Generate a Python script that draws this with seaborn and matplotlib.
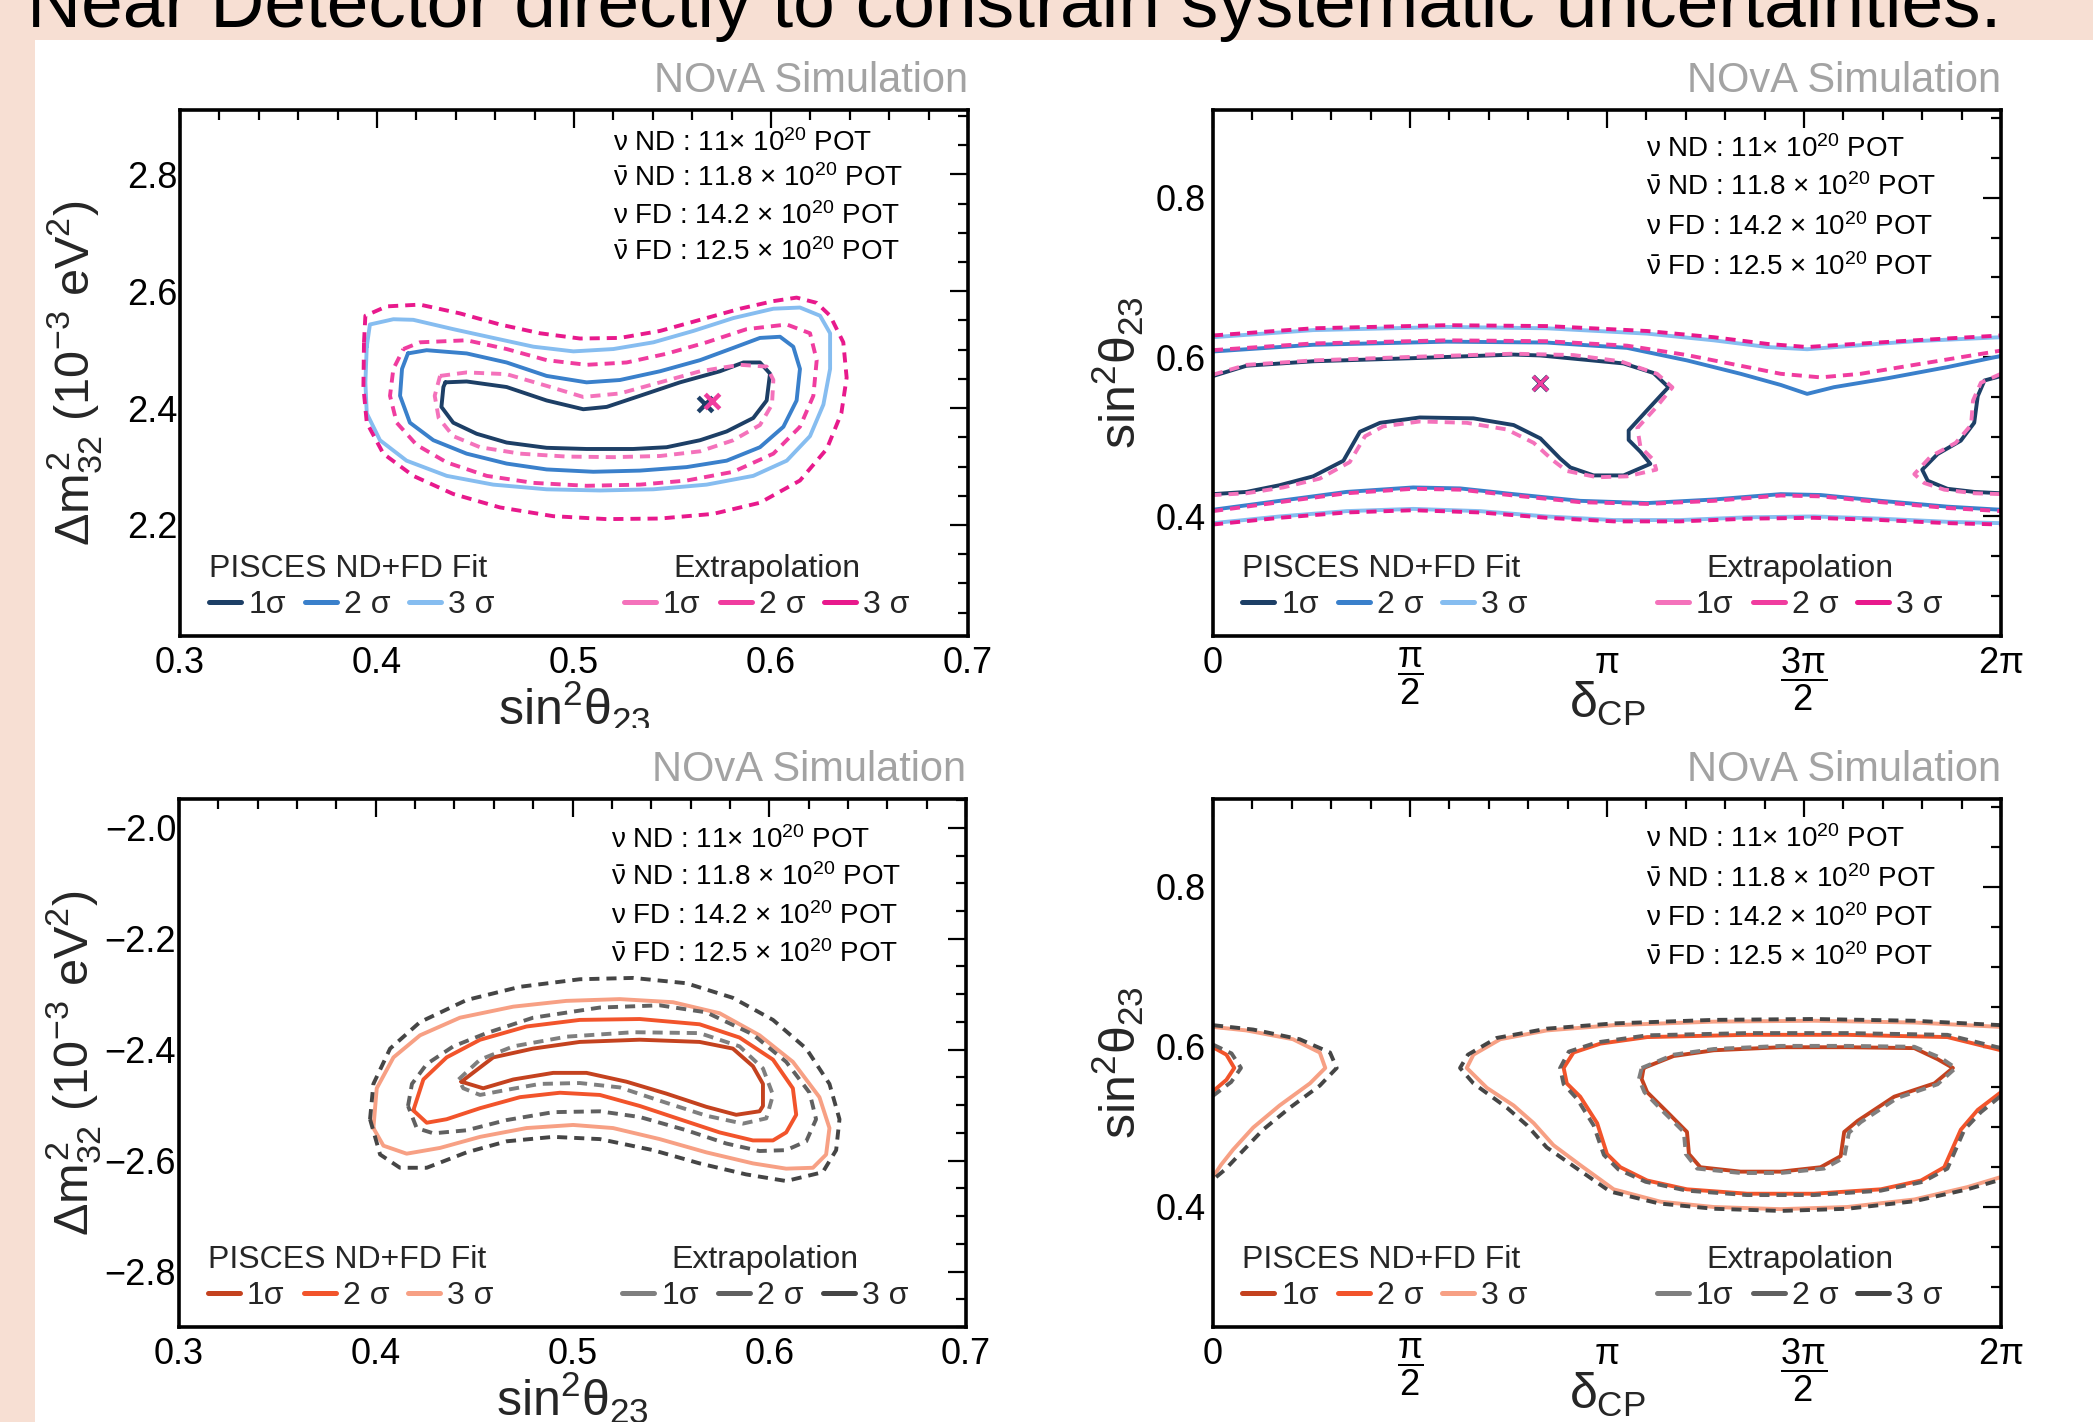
import numpy as np
import matplotlib
matplotlib.use("Agg")
import matplotlib.pyplot as plt
import seaborn as sns
from matplotlib.lines import Line2D
from matplotlib.patches import Rectangle
from matplotlib.ticker import MultipleLocator, FixedLocator, FixedFormatter

# ------------------------------------------------------------------ data
# Top-left: sin^2(theta23) vs dm^2_32 (normal ordering)
tl_fit1_x = [0.4347,0.4455,0.4658,0.4861,0.5047,0.5166,0.5335,0.5538,0.5741,0.586,0.5944,0.5995,0.5978,0.591,0.5775,0.564,0.547,0.530,0.5064,0.4861,0.4658,0.4506,0.4387,0.4327,0.4337]
tl_fit1_y = [2.444,2.4455,2.436,2.413,2.398,2.402,2.421,2.444,2.463,2.478,2.478,2.459,2.413,2.383,2.360,2.345,2.333,2.330,2.330,2.332,2.341,2.356,2.375,2.402,2.436]
tl_ext1_x = [0.432,0.4455,0.4658,0.4861,0.5047,0.5233,0.5437,0.564,0.5843,0.5978,0.6012,0.6005,0.5944,0.5809,0.564,0.5437,0.520,0.4963,0.4726,0.4523,0.4387,0.4313,0.4293]
tl_ext1_y = [2.455,2.461,2.458,2.438,2.419,2.425,2.444,2.463,2.474,2.471,2.448,2.406,2.371,2.345,2.326,2.318,2.316,2.317,2.322,2.333,2.352,2.383,2.421]
tl_fit2_x = [0.4157,0.4252,0.4455,0.4658,0.4861,0.5064,0.5233,0.5437,0.564,0.5809,0.5944,0.6046,0.6113,0.6147,0.613,0.6063,0.5944,0.5775,0.5572,0.5335,0.5098,0.4861,0.4658,0.4455,0.4286,0.4167,0.4117,0.4127]
tl_fit2_y = [2.4935,2.499,2.4935,2.478,2.455,2.444,2.448,2.463,2.482,2.503,2.520,2.522,2.505,2.467,2.413,2.368,2.333,2.310,2.299,2.293,2.291,2.295,2.305,2.322,2.345,2.375,2.421,2.467]
tl_ext2_x = [0.4134,0.4218,0.4455,0.4658,0.4861,0.5064,0.5267,0.547,0.5673,0.5876,0.608,0.6198,0.6232,0.6215,0.6147,0.6012,0.5809,0.5572,0.5335,0.5064,0.4794,0.4557,0.4354,0.4201,0.41,0.4066,0.4083]
tl_ext2_y = [2.501,2.5125,2.516,2.501,2.482,2.474,2.478,2.493,2.5125,2.535,2.543,2.528,2.482,2.421,2.368,2.322,2.291,2.276,2.269,2.267,2.272,2.284,2.307,2.337,2.375,2.421,2.467]
tl_fit3_x = [0.3948,0.3964,0.4083,0.4184,0.4387,0.459,0.4794,0.4997,0.520,0.5403,0.5606,0.5809,0.6012,0.6147,0.6249,0.630,0.630,0.6266,0.6198,0.608,0.591,0.5673,0.5403,0.5132,0.4861,0.459,0.4354,0.415,0.4015,0.3948,0.3941]
tl_fit3_y = [2.505,2.543,2.552,2.551,2.535,2.520,2.505,2.497,2.501,2.5125,2.532,2.554,2.570,2.572,2.558,2.528,2.467,2.406,2.352,2.310,2.284,2.269,2.261,2.259,2.261,2.269,2.284,2.310,2.345,2.391,2.444]
tl_ext3_x = [0.3934,0.3941,0.4049,0.4218,0.4421,0.4624,0.4827,0.503,0.5233,0.5437,0.564,0.5843,0.6012,0.613,0.6232,0.630,0.6367,0.6384,0.6357,0.6283,0.6147,0.5944,0.5707,0.5437,0.5166,0.4895,0.4624,0.4387,0.4184,0.4032,0.3948,0.3931]
tl_ext3_y = [2.5125,2.558,2.574,2.577,2.562,2.543,2.528,2.519,2.520,2.532,2.551,2.570,2.583,2.589,2.580,2.558,2.5125,2.452,2.391,2.330,2.276,2.238,2.219,2.211,2.210,2.215,2.230,2.253,2.284,2.322,2.375,2.436]
tl_best_fit = ([0.5667], [2.407])
tl_best_ext = ([0.570], [2.412])

# Top-right: delta_CP (units of pi) vs sin^2(theta23)
tr_fit3_hi_x = [0,0.254,0.593,0.847,1.102,1.271,1.407,1.508,1.610,1.780,2.0]
tr_fit3_hi_y = [0.6249,0.6338,0.6378,0.6361,0.6294,0.6210,0.6126,0.6098,0.6137,0.6199,0.6249]
tr_ext3_hi_x = [0,0.254,0.593,0.847,1.102,1.271,1.407,1.508,1.610,1.780,2.0]
tr_ext3_hi_y = [0.6271,0.6361,0.640,0.6389,0.6327,0.6249,0.6165,0.6126,0.6159,0.621,0.6271]
tr_fit2_hi_x = [0,0.254,0.593,0.847,1.051,1.203,1.339,1.441,1.508,1.576,1.712,1.864,2.0]
tr_fit2_hi_y = [0.607,0.6154,0.6193,0.6182,0.6115,0.5958,0.579,0.565,0.5538,0.5622,0.5734,0.5874,0.6014]
tr_ext2_hi_x = [0,0.254,0.593,0.847,1.051,1.203,1.339,1.441,1.542,1.644,1.780,2.0]
tr_ext2_hi_y = [0.6087,0.6171,0.621,0.6199,0.6143,0.6025,0.5891,0.579,0.5745,0.579,0.5902,0.6081]
tr_fit1_a_x = [0,0.085,0.254,0.508,0.763,0.831,1.042,1.118,1.156,1.105,1.055,1.055,1.085,1.110,1.042,0.966,0.907,0.881,0.831,0.763,0.661,0.525,0.424,0.373,0.331,0.254,0.169,0.085,0]
tr_fit1_a_y = [0.5762,0.5891,0.5947,0.5986,0.6031,0.602,0.592,0.580,0.5622,0.535,0.508,0.496,0.4811,0.466,0.4515,0.4515,0.4615,0.4727,0.4979,0.5147,0.5231,0.5242,0.5175,0.5063,0.4699,0.4503,0.4392,0.4308,0.428]
tr_ext1_a_x = [0,0.085,0.254,0.508,0.763,0.915,1.034,1.127,1.166,1.125,1.077,1.085,1.118,1.125,1.051,0.975,0.898,0.864,0.814,0.746,0.644,0.525,0.432,0.386,0.347,0.271,0.178,0.085,0]
tr_ext1_a_y = [0.5779,0.5902,0.5958,0.6003,0.6042,0.6025,0.5947,0.579,0.562,0.537,0.511,0.487,0.471,0.4587,0.4503,0.4492,0.4571,0.4699,0.4923,0.5091,0.5175,0.5192,0.513,0.5007,0.4682,0.4475,0.4364,0.4291,0.4268]
tr_fit1_b_x = [2.0,1.958,1.941,1.932,1.898,1.839,1.800,1.814,1.864,1.932,2.0]
tr_fit1_b_y = [0.5762,0.5706,0.551,0.5175,0.4951,0.4783,0.4587,0.4448,0.4347,0.4308,0.4291]
tr_ext1_b_x = [2.0,1.949,1.929,1.924,1.885,1.822,1.780,1.805,1.856,1.932,2.0]
tr_ext1_b_y = [0.579,0.5678,0.5455,0.5147,0.4923,0.4755,0.4531,0.442,0.4336,0.4291,0.428]
tr_lo2_x = [0,0.169,0.339,0.508,0.627,0.763,0.932,1.102,1.271,1.441,1.542,1.695,1.864,2.0]
tr_fit2_lo_y = [0.4084,0.4196,0.4308,0.4364,0.4352,0.428,0.4196,0.4168,0.4213,0.428,0.4269,0.4196,0.4123,0.4084]
tr_ext2_lo_y = [0.4067,0.4179,0.4291,0.4347,0.4336,0.4263,0.4179,0.4157,0.4196,0.4263,0.4252,0.4179,0.4106,0.4067]
tr_lo3_x = [0,0.169,0.339,0.508,0.678,0.847,1.017,1.186,1.356,1.525,1.695,1.864,2.0]
tr_fit3_lo_y = [0.3916,0.4,0.4067,0.4095,0.4067,0.4,0.3955,0.3955,0.3989,0.4,0.3972,0.3933,0.3916]
tr_ext3_lo_y = [0.3899,0.3983,0.405,0.4078,0.405,0.3983,0.3938,0.3938,0.3972,0.3983,0.3955,0.3916,0.3899]
tr_best = ([0.83], [0.568])

# Bottom-left: sin^2(theta23) vs dm^2_32 (inverted ordering)
bl_fit1_x = [0.4435,0.4597,0.48,0.5037,0.5342,0.5646,0.5815,0.5917,0.5968,0.5968,0.5951,0.5832,0.568,0.5477,0.5274,0.5071,0.4902,0.4699,0.4546]
bl_fit1_y = [-2.4577,-2.4139,-2.398,-2.386,-2.382,-2.386,-2.398,-2.4298,-2.4617,-2.5015,-2.511,-2.5174,-2.503,-2.4792,-2.4577,-2.4418,-2.4418,-2.4537,-2.4696]
bl_ext1_x = [0.4421,0.453,0.4699,0.497,0.5308,0.5646,0.5849,0.5968,0.6019,0.5985,0.5866,0.568,0.5443,0.524,0.5037,0.4834,0.4648,0.453,0.4445]
bl_ext1_y = [-2.4537,-2.4179,-2.394,-2.3765,-2.3685,-2.3701,-2.394,-2.4338,-2.4816,-2.5238,-2.5333,-2.519,-2.4919,-2.468,-2.4601,-2.4617,-2.4736,-2.4816,-2.4696]
bl_fit2_x = [0.4191,0.4242,0.436,0.453,0.4766,0.5037,0.5342,0.5646,0.5849,0.6019,0.612,0.6137,0.6086,0.6019,0.5917,0.5748,0.5545,0.5342,0.5139,0.4936,0.4733,0.453,0.436,0.4259]
bl_fit2_y = [-2.5094,-2.4537,-2.4139,-2.3821,-2.3582,-2.3463,-2.3447,-2.3542,-2.3781,-2.4179,-2.4696,-2.5174,-2.5492,-2.5636,-2.5636,-2.5492,-2.5254,-2.5015,-2.4816,-2.4776,-2.4856,-2.5055,-2.5254,-2.5317]
bl_ext2_x = [0.4164,0.4184,0.4259,0.4394,0.4563,0.48,0.5139,0.5443,0.568,0.5917,0.6086,0.6205,0.6238,0.6188,0.6086,0.5951,0.5782,0.5579,0.5342,0.5139,0.4902,0.4665,0.4462,0.4293,0.4208]
bl_ext2_y = [-2.5015,-2.4617,-2.4259,-2.394,-2.3701,-2.3423,-2.324,-2.32,-2.3327,-2.3725,-2.4219,-2.4776,-2.5254,-2.5652,-2.5811,-2.5827,-2.5692,-2.5453,-2.5214,-2.5111,-2.5126,-2.5269,-2.5453,-2.5508,-2.5413]
bl_fit3_x = [0.3988,0.4005,0.409,0.4225,0.4428,0.4699,0.4969,0.524,0.5511,0.5748,0.5951,0.612,0.6255,0.6306,0.6289,0.6222,0.6086,0.5917,0.568,0.5443,0.5206,0.5003,0.4766,0.453,0.4327,0.4157,0.4039]
bl_fit3_y = [-2.5413,-2.4696,-2.4139,-2.3741,-2.3423,-2.3224,-2.312,-2.3088,-2.3144,-2.3343,-2.3741,-2.4219,-2.4856,-2.5413,-2.5891,-2.6129,-2.6145,-2.605,-2.5851,-2.5612,-2.5413,-2.5357,-2.5413,-2.5572,-2.5771,-2.5875,-2.5731]
bl_ext3_x = [0.3971,0.3988,0.4073,0.4225,0.4462,0.4733,0.5037,0.5308,0.5579,0.5815,0.6019,0.6188,0.6306,0.6357,0.634,0.6272,0.6086,0.5883,0.5646,0.5409,0.5139,0.4902,0.4665,0.4462,0.4259,0.4123,0.4022]
bl_ext3_y = [-2.5254,-2.4617,-2.398,-2.3502,-2.3104,-2.2866,-2.273,-2.2706,-2.2802,-2.3065,-2.3463,-2.398,-2.4617,-2.5254,-2.5811,-2.6209,-2.6368,-2.6249,-2.605,-2.5811,-2.5612,-2.5572,-2.5652,-2.5851,-2.6129,-2.6129,-2.589]

# Bottom-right: delta_CP (units of pi) vs sin^2(theta23), inverted ordering
br_fit1_x = [1.093,1.169,1.271,1.441,1.610,1.780,1.839,1.878,1.831,1.729,1.636,1.602,1.593,1.542,1.441,1.339,1.237,1.208,1.203,1.153,1.102,1.088]
br_fit1_y = [0.5738,0.5887,0.5959,0.5997,0.5997,0.5986,0.5848,0.5738,0.5545,0.5379,0.5076,0.4938,0.4635,0.4497,0.4442,0.4442,0.4497,0.4662,0.4938,0.5186,0.5435,0.56]
br_ext1_x = [1.088,1.169,1.271,1.441,1.610,1.780,1.847,1.885,1.839,1.737,1.644,1.614,1.602,1.551,1.441,1.339,1.229,1.2,1.195,1.144,1.095,1.081]
br_ext1_y = [0.5738,0.5904,0.5975,0.6014,0.6014,0.6003,0.5865,0.5738,0.5534,0.5363,0.506,0.4927,0.4618,0.448,0.4425,0.4425,0.448,0.4662,0.4938,0.5186,0.5435,0.56]
br_fit2_a_x = [2.0,1.864,1.610,1.356,1.102,0.983,0.915,0.890,0.898,0.932,0.975,1.0,1.034,1.102,1.203,1.356,1.525,1.695,1.797,1.856,1.898,1.941,2.0]
br_fit2_a_y = [0.5959,0.6124,0.6152,0.6152,0.6124,0.6042,0.5931,0.5738,0.5545,0.5379,0.5048,0.4662,0.4497,0.4331,0.4221,0.4166,0.4166,0.4221,0.4331,0.4497,0.4966,0.5214,0.5435]
br_ext2_a_x = [2.0,1.864,1.610,1.356,1.102,0.975,0.903,0.881,0.890,0.924,0.966,0.992,1.029,1.098,1.203,1.356,1.525,1.695,1.802,1.864,1.907,1.949,2.0]
br_ext2_a_y = [0.5986,0.6152,0.6174,0.6174,0.6146,0.6058,0.5942,0.5738,0.5534,0.5352,0.5021,0.4651,0.4469,0.4315,0.4204,0.4149,0.4149,0.4204,0.4315,0.448,0.4966,0.5186,0.539]
br_fit2_b_x = [0,0.034,0.054,0.034,0]
br_fit2_b_y = [0.5997,0.5904,0.5738,0.5589,0.5446]
br_ext2_b_x = [0,0.047,0.071,0.046,0]
br_ext2_b_y = [0.603,0.592,0.5738,0.5562,0.539]
br_fit3_a_x = [2.0,1.780,1.525,1.271,1.017,0.847,0.729,0.661,0.644,0.695,0.763,0.814,0.864,0.932,1.017,1.136,1.271,1.441,1.610,1.780,1.915,2.0]
br_fit3_a_y = [0.6251,0.6306,0.6328,0.6317,0.6273,0.6207,0.6097,0.5904,0.5738,0.549,0.5269,0.5048,0.4773,0.4524,0.4221,0.4066,0.4,0.3973,0.4,0.4094,0.4249,0.4375]
br_ext3_a_x = [2.0,1.780,1.525,1.271,1.017,0.847,0.720,0.647,0.627,0.661,0.746,0.797,0.847,0.919,1.008,1.132,1.271,1.441,1.610,1.780,1.915,2.0]
br_ext3_a_y = [0.6273,0.6328,0.635,0.6339,0.6295,0.6229,0.6113,0.5904,0.5738,0.5545,0.5241,0.5021,0.4745,0.4497,0.4193,0.4044,0.3978,0.3951,0.3978,0.4072,0.4221,0.4342]
br_fit3_b_x = [0,0.085,0.203,0.271,0.285,0.246,0.169,0.102,0.051,0.02,0]
br_fit3_b_y = [0.6251,0.6207,0.6097,0.5931,0.5738,0.5545,0.5269,0.4993,0.4717,0.4524,0.4375]
br_ext3_b_x = [0,0.102,0.22,0.297,0.314,0.271,0.195,0.127,0.068,0.031,0]
br_ext3_b_y = [0.6273,0.6218,0.6097,0.5931,0.5738,0.5517,0.5241,0.4966,0.4662,0.4469,0.4342]

# text
title_text = "Near Detector directly to constrain systematic uncertainties."
pot_lines = [r"$\nu$ ND : 11$\times$ 10$^{20}$ POT",
             r"$\bar{\nu}$ ND : 11.8 $\times$ 10$^{20}$ POT",
             r"$\nu$ FD : 14.2 $\times$ 10$^{20}$ POT",
             r"$\bar{\nu}$ FD : 12.5 $\times$ 10$^{20}$ POT"]
sigma_labels = ["1σ", "2 σ", "3 σ"]
delta_ticks = [0, 0.5, 1.0, 1.5, 2.0]
delta_ticklabels = ["0", r"$\dfrac{\pi}{2}$", r"$\pi$", r"$\dfrac{3\pi}{2}$", r"$2\pi$"]
sin_label = r"$\mathrm{sin}^{2}\theta_{23}$"
dm_label = r"$\Delta m^{2}_{32}$ (10$^{-3}$ eV$^{2}$)"

FIT_BLUE = ["#1d3f66", "#3a80cb", "#86bdf0"]
EXT_PINK = ["#f472bb", "#f03c9f", "#e8198c"]
FIT_RED = ["#c4421f", "#f2542b", "#f7a084"]
EXT_GRAY = ["#7f7f7f", "#606060", "#454545"]
PEACH = "#f7dfd3"

# ------------------------------------------------------------------ style
sns.set_theme(style="white")
plt.rcParams["font.family"] = ["Liberation Sans", "DejaVu Sans"]
plt.rcParams["mathtext.fontset"] = "custom"
plt.rcParams["mathtext.rm"] = "Liberation Sans"
plt.rcParams["mathtext.it"] = "Liberation Sans"
plt.rcParams["mathtext.bf"] = "Liberation Sans:bold"
plt.rcParams["mathtext.sf"] = "Liberation Sans"
plt.rcParams["axes.unicode_minus"] = True

W, H = 2093, 1422
fig = plt.figure(figsize=(W / 100, H / 100), dpi=100)
fig.patch.set_facecolor(PEACH)
fig.add_artist(Rectangle((35 / W, 0), 1, 1 - 40 / H, transform=fig.transFigure,
                         facecolor="white", edgecolor="none", zorder=-10))

LW = 2.8
DASH = (0, (2.6, 1.8))


def curve(ax, xs, ys, color, dashed=False, closed=False):
    xs = list(xs)
    ys = list(ys)
    if closed:
        xs = xs + xs[:1]
        ys = ys + ys[:1]
    sns.lineplot(x=xs, y=ys, sort=False, estimator=None, color=color,
                 linewidth=LW, linestyle=DASH if dashed else "-", ax=ax)


def style_axes(ax, left_pad):
    ax.set_facecolor("white")
    ax.tick_params(which="both", direction="in", top=True, right=True,
                   width=1.6, color="black", labelcolor="black", labelsize=26)
    ax.tick_params(which="major", length=13)
    ax.tick_params(which="minor", length=7.5)
    ax.tick_params(axis="x", which="both", pad=7)
    ax.tick_params(axis="y", which="both", pad=left_pad)
    for s in ax.spines.values():
        s.set_linewidth(2.6)
        s.set_color("black")
        s.set_visible(True)


def decorate(ax, fit_cols, ext_cols, pot_y, pot_x=0.549):
    ax.text(1.0, 1.035, "NOvA Simulation", transform=ax.transAxes, ha="right",
            va="baseline", fontsize=30, color="#a3a3a3")
    for line, yy in zip(pot_lines, pot_y):
        ax.text(pot_x, yy, line, transform=ax.transAxes, ha="left",
                va="baseline", fontsize=20, color="black")
    h1 = [Line2D([], [], color=c, lw=3.6) for c in fit_cols]
    h2 = [Line2D([], [], color=c, lw=3.6) for c in ext_cols]
    common = dict(ncol=3, loc="lower left", frameon=False, fontsize=23,
                  title_fontsize=23, handlelength=1.0, handletextpad=0.22,
                  columnspacing=0.6, borderpad=0, borderaxespad=0,
                  labelspacing=0.2)
    leg1 = ax.legend(h1, sigma_labels, title="PISCES ND+FD Fit",
                     bbox_to_anchor=(0.037, 0.03), alignment="left", **common)
    ax.add_artist(leg1)
    ax.legend(h2, sigma_labels, title="Extrapolation",
              bbox_to_anchor=(0.5635, 0.03), alignment="center", **common)


def theta_axis(ax):
    ax.set_xlim(0.3, 0.7)
    ax.xaxis.set_major_locator(MultipleLocator(0.1))
    ax.xaxis.set_minor_locator(MultipleLocator(0.02))
    ax.set_xlabel(sin_label, fontsize=36)
    ax.xaxis.set_label_coords(0.5, -0.082)
    ax.set_ylabel(dm_label, fontsize=35)
    ax.yaxis.set_label_coords(-0.097, 0.5)
    ax.yaxis.set_major_locator(MultipleLocator(0.2))
    ax.yaxis.set_minor_locator(MultipleLocator(0.05))


def delta_axis(ax):
    ax.set_xlim(0, 2)
    ax.xaxis.set_major_locator(FixedLocator(delta_ticks))
    ax.xaxis.set_major_formatter(FixedFormatter(delta_ticklabels))
    ax.xaxis.set_minor_locator(MultipleLocator(0.1))
    ax.set_ylim(0.25, 0.91)
    ax.yaxis.set_major_locator(MultipleLocator(0.2))
    ax.yaxis.set_minor_locator(MultipleLocator(0.05))
    ax.set_xlabel(r"$\delta_{\mathrm{CP}}$", fontsize=36)
    ax.xaxis.set_label_coords(0.5, -0.083)
    ax.set_ylabel(sin_label, fontsize=36)
    ax.yaxis.set_label_coords(-0.085, 0.5)


ax_tl = fig.add_axes([180 / W, 1 - 636 / H, 788 / W, 526 / H])
ax_tr = fig.add_axes([1213 / W, 1 - 636 / H, 788 / W, 526 / H])
ax_bl = fig.add_axes([179 / W, 1 - 1327 / H, 787 / W, 528 / H])
ax_br = fig.add_axes([1213 / W, 1 - 1327 / H, 788 / W, 528 / H])

# ---- top-left
ax = ax_tl
style_axes(ax, 2)
for xs, ys, c in [(tl_fit1_x, tl_fit1_y, FIT_BLUE[0]), (tl_fit2_x, tl_fit2_y, FIT_BLUE[1]),
                  (tl_fit3_x, tl_fit3_y, FIT_BLUE[2])]:
    curve(ax, xs, ys, c, closed=True)
for xs, ys, c in [(tl_ext1_x, tl_ext1_y, EXT_PINK[0]), (tl_ext2_x, tl_ext2_y, EXT_PINK[1]),
                  (tl_ext3_x, tl_ext3_y, EXT_PINK[2])]:
    curve(ax, xs, ys, c, dashed=True, closed=True)
sns.scatterplot(x=tl_best_fit[0], y=tl_best_fit[1], marker="x", s=110, color=FIT_BLUE[0], linewidth=3.2, ax=ax, zorder=5)
sns.scatterplot(x=tl_best_ext[0], y=tl_best_ext[1], marker="x", s=110, color=EXT_PINK[1], linewidth=3.2, ax=ax, zorder=5)
theta_axis(ax)
ax.set_ylim(2.01, 2.91)
decorate(ax, FIT_BLUE, EXT_PINK, [0.922, 0.855, 0.783, 0.715])

# ---- top-right
ax = ax_tr
style_axes(ax, 5)
for xs, ys, c in [(tr_fit3_hi_x, tr_fit3_hi_y, FIT_BLUE[2]), (tr_fit2_hi_x, tr_fit2_hi_y, FIT_BLUE[1]),
                  (tr_fit1_a_x, tr_fit1_a_y, FIT_BLUE[0]), (tr_fit1_b_x, tr_fit1_b_y, FIT_BLUE[0]),
                  (tr_lo2_x, tr_fit2_lo_y, FIT_BLUE[1]), (tr_lo3_x, tr_fit3_lo_y, FIT_BLUE[2])]:
    curve(ax, xs, ys, c)
for xs, ys, c in [(tr_ext3_hi_x, tr_ext3_hi_y, EXT_PINK[2]), (tr_ext2_hi_x, tr_ext2_hi_y, EXT_PINK[1]),
                  (tr_ext1_a_x, tr_ext1_a_y, EXT_PINK[0]), (tr_ext1_b_x, tr_ext1_b_y, EXT_PINK[0]),
                  (tr_lo2_x, tr_ext2_lo_y, EXT_PINK[1]), (tr_lo3_x, tr_ext3_lo_y, EXT_PINK[2])]:
    curve(ax, xs, ys, c, dashed=True)
sns.scatterplot(x=tr_best[0], y=tr_best[1], marker="x", s=110, color=FIT_BLUE[0], linewidth=3.2, ax=ax, zorder=5)
sns.scatterplot(x=tr_best[0], y=tr_best[1], marker="x", s=110, color=EXT_PINK[1], linewidth=2.4, ax=ax, zorder=6)
delta_axis(ax)
decorate(ax, FIT_BLUE, EXT_PINK, [0.911, 0.838, 0.762, 0.686])

# ---- bottom-left
ax = ax_bl
style_axes(ax, 2)
for xs, ys, c in [(bl_fit1_x, bl_fit1_y, FIT_RED[0]), (bl_fit2_x, bl_fit2_y, FIT_RED[1]),
                  (bl_fit3_x, bl_fit3_y, FIT_RED[2])]:
    curve(ax, xs, ys, c, closed=True)
for xs, ys, c in [(bl_ext1_x, bl_ext1_y, EXT_GRAY[0]), (bl_ext2_x, bl_ext2_y, EXT_GRAY[1]),
                  (bl_ext3_x, bl_ext3_y, EXT_GRAY[2])]:
    curve(ax, xs, ys, c, dashed=True, closed=True)
theta_axis(ax)
ax.set_ylim(-2.9, -1.948)
decorate(ax, FIT_RED, EXT_GRAY, [0.907, 0.838, 0.763, 0.691])

# ---- bottom-right
ax = ax_br
style_axes(ax, 5)
curve(ax, br_fit1_x, br_fit1_y, FIT_RED[0], closed=True)
for xs, ys, c in [(br_fit2_a_x, br_fit2_a_y, FIT_RED[1]), (br_fit2_b_x, br_fit2_b_y, FIT_RED[1]),
                  (br_fit3_a_x, br_fit3_a_y, FIT_RED[2]), (br_fit3_b_x, br_fit3_b_y, FIT_RED[2])]:
    curve(ax, xs, ys, c)
curve(ax, br_ext1_x, br_ext1_y, EXT_GRAY[0], dashed=True, closed=True)
for xs, ys, c in [(br_ext2_a_x, br_ext2_a_y, EXT_GRAY[1]), (br_ext2_b_x, br_ext2_b_y, EXT_GRAY[1]),
                  (br_ext3_a_x, br_ext3_a_y, EXT_GRAY[2]), (br_ext3_b_x, br_ext3_b_y, EXT_GRAY[2])]:
    curve(ax, xs, ys, c, dashed=True)
delta_axis(ax)
decorate(ax, FIT_RED, EXT_GRAY, [0.909, 0.834, 0.759, 0.685])

# image seam that clips the first x label
fig.add_artist(Rectangle((35 / W, 1 - 748 / H), 1000 / W, 20 / H, transform=fig.transFigure,
                         facecolor="white", edgecolor="none", zorder=5))
fig.text(27 / W, 1 - 27 / H, title_text, fontsize=54, ha="left", va="baseline",
         color="black", zorder=10)

fig.savefig("out.png", dpi=100, facecolor=fig.get_facecolor())
